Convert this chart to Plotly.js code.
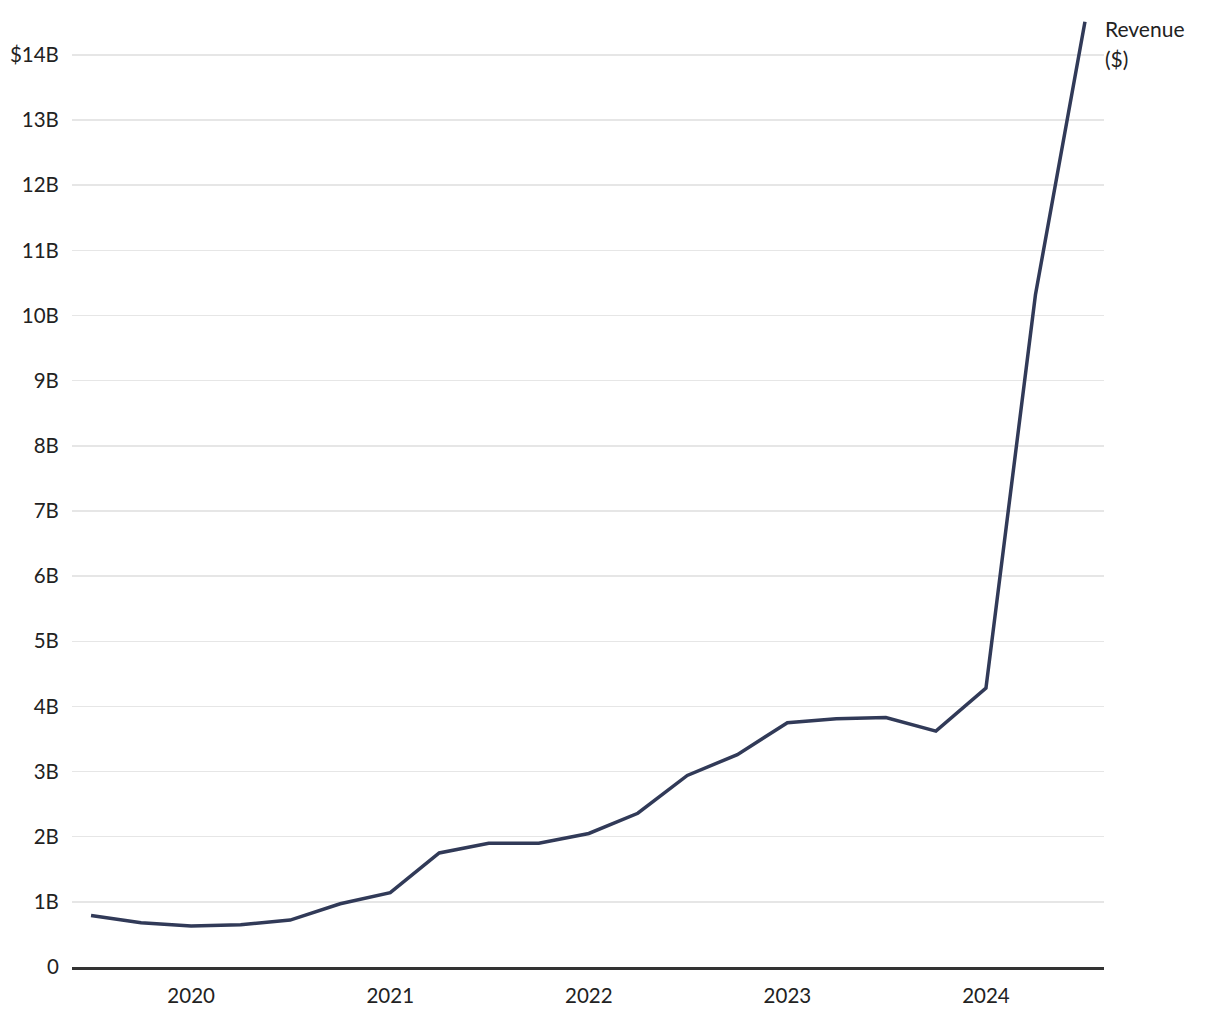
<!DOCTYPE html>
<html>
<head>
<meta charset="utf-8">
<script src="https://cdn.plot.ly/plotly-3.0.1.min.js"></script>
<style>html,body{margin:0;padding:0;background:#fff;}#chart{width:1220px;height:1020px;}</style>
</head>
<body>
<div id="chart"></div>
<script>
const quarters = ['2019-07-01','2019-10-01','2020-01-01','2020-04-01','2020-07-01','2020-10-01','2021-01-01','2021-04-01','2021-07-01','2021-10-01','2022-01-01','2022-04-01','2022-07-01','2022-10-01','2023-01-01','2023-04-01','2023-07-01','2023-10-01','2024-01-01','2024-04-01','2024-07-01'];
const revenueB = [0.79,0.68,0.63,0.65,0.72,0.97,1.14,1.75,1.90,1.90,2.05,2.36,2.94,3.26,3.75,3.81,3.83,3.62,4.28,10.32,14.51];
const yTickVals = [0,1,2,3,4,5,6,7,8,9,10,11,12,13,14];
const yTickText = ['0','1B','2B','3B','4B','5B','6B','7B','8B','9B','10B','11B','12B','13B','$14B'];
const seriesLabel = ['Revenue','($)'];

const font = 'Lato, "Source Sans Pro", "Noto Sans", sans-serif';
const fs = 20.5;
const lastX = quarters[quarters.length-1];
const lastY = revenueB[revenueB.length-1];

Plotly.newPlot('chart', [{
  x: quarters, y: revenueB, type: 'scatter', mode: 'lines',
  line: {color: '#313a58', width: 3.5},
  hoverinfo: 'skip'
}], {
  width: 1220, height: 1020,
  margin: {l: 72, r: 116, t: 10, b: 53},
  paper_bgcolor: '#ffffff', plot_bgcolor: '#ffffff',
  showlegend: false,
  font: {family: font, size: fs, color: '#222222'},
  xaxis: {
    type: 'date', range: ['2019-05-27','2024-08-05'],
    tickvals: ['2020-01-01','2021-01-01','2022-01-01','2023-01-01','2024-01-01'],
    ticktext: ['2020','2021','2022','2023','2024'],
    showgrid: false, zeroline: false,
    showline: true, linecolor: '#333333', linewidth: 2.5,
    ticks: 'outside', ticklen: 9, tickcolor: 'rgba(0,0,0,0)',
    tickfont: {family: font, size: fs, color: '#222222'}
  },
  yaxis: {
    range: [0, 14.69],
    tickvals: yTickVals, ticktext: yTickText,
    showgrid: true, gridcolor: '#e6e6e6', gridwidth: 1.5,
    zeroline: false, showline: false,
    ticks: 'outside', ticklen: 8, tickcolor: 'rgba(0,0,0,0)',
    tickfont: {family: font, size: fs, color: '#222222'}
  },
  annotations: [
    {x: lastX, y: lastY, xref: 'x', yref: 'y', text: seriesLabel[0], showarrow: false,
     xanchor: 'left', yanchor: 'middle', xshift: 18, yshift: -7,
     font: {family: font, size: 21, color: '#222222'}},
    {x: lastX, y: lastY, xref: 'x', yref: 'y', text: seriesLabel[1], showarrow: false,
     xanchor: 'left', yanchor: 'middle', xshift: 18, yshift: -37,
     font: {family: font, size: 21, color: '#222222'}}
  ]
}, {displayModeBar: false, staticPlot: true});
</script>
</body>
</html>
